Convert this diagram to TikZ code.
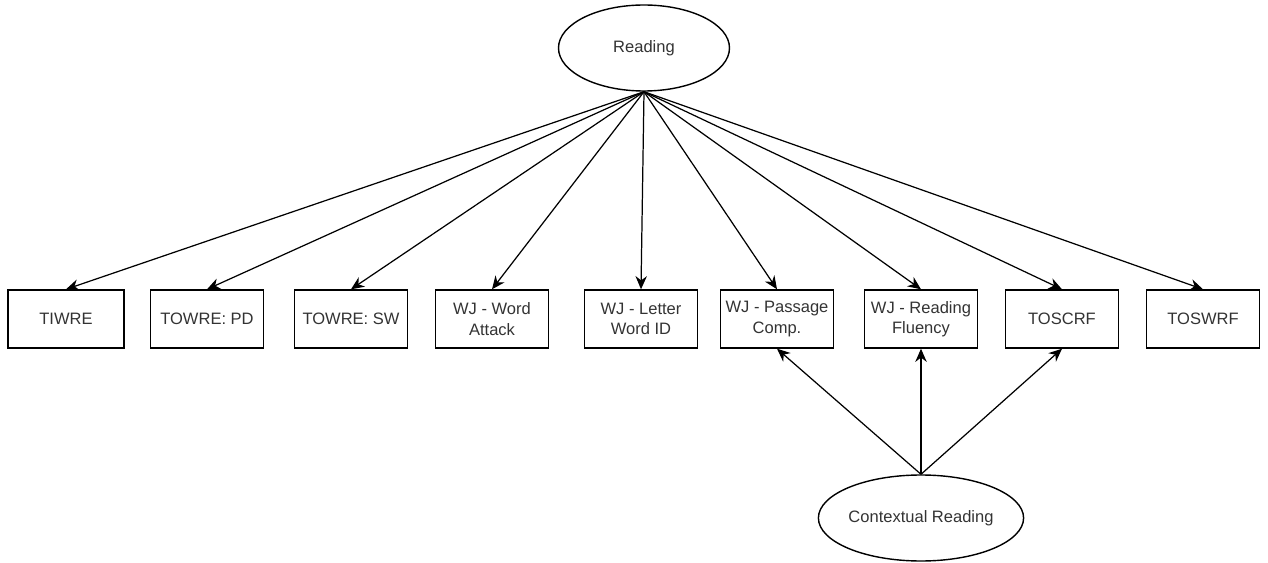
\documentclass[tikz,border=0pt]{standalone}
\usepackage{fontspec}
\setmainfont{Liberation Sans}
\usetikzlibrary{shapes.geometric,arrows.meta}
\begin{document}
\begin{tikzpicture}[boxstyle/.style={rectangle,draw,line width=0.8pt,minimum width=2.26cm,minimum height=1.16cm,inner sep=1pt,align=center,font=\fontsize{9.4}{11.5}\selectfont,text=black!80},
ovalstyle/.style={ellipse,draw,line width=0.8pt,minimum width=3.42cm,minimum height=1.72cm,inner sep=0pt,font=\fontsize{9.4}{11.5}\selectfont,text=black!80},
linkstyle/.style={line width=0.7pt,-{Stealth[length=7.5pt,width=6.5pt]}}]
\useasboundingbox (0,0) rectangle (25.36,-11.26);
\node[ovalstyle](R) at (12.88,-0.96){Reading};
\node[boxstyle,minimum width=2.32cm](TIWRE) at (1.32,-6.38){TIWRE};
\node[boxstyle](TPD) at (4.14,-6.38){TOWRE: PD};
\node[boxstyle](TSW) at (7.02,-6.38){TOWRE: SW};
\node[boxstyle](WJWA) at (9.84,-6.38){WJ - Word\\Attack};
\node[boxstyle](WJLW) at (12.82,-6.38){WJ - Letter\\Word ID};
\node[boxstyle](WJPC) at (15.54,-6.38){WJ - Passage\\Comp.};
\node[boxstyle](WJRF) at (18.42,-6.38){WJ - Reading\\Fluency};
\node[boxstyle](TOSCRF) at (21.24,-6.38){TOSCRF};
\node[boxstyle](TOSWRF) at (24.06,-6.38){TOSWRF};
\node[ovalstyle](CR) at (18.42,-10.36){Contextual Reading};
\draw[linkstyle] (R.south)--(TIWRE.north);
\draw[linkstyle] (R.south)--(TPD.north);
\draw[linkstyle] (R.south)--(TSW.north);
\draw[linkstyle] (R.south)--(WJWA.north);
\draw[linkstyle] (R.south)--(WJLW.north);
\draw[linkstyle] (R.south)--(WJPC.north);
\draw[linkstyle] (R.south)--(WJRF.north);
\draw[linkstyle] (R.south)--(TOSCRF.north);
\draw[linkstyle] (R.south)--(TOSWRF.north);
\draw[linkstyle] (CR.north)--(WJPC.south);
\draw[linkstyle] (CR.north)--(WJRF.south);
\draw[linkstyle] (CR.north)--(TOSCRF.south);
\end{tikzpicture}
\end{document}
